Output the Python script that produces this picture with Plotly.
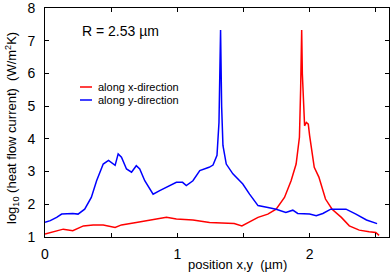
import plotly.graph_objects as go

# along x-direction (red)
x_red = [0.0, 0.05, 0.138, 0.21, 0.29, 0.364, 0.44, 0.53, 0.578, 0.69, 0.79, 0.918, 0.993,
         1.118, 1.244, 1.37, 1.43, 1.488, 1.533, 1.61, 1.684, 1.747, 1.81, 1.86, 1.898,
         1.923, 1.932, 1.94, 1.945, 1.95, 1.955, 1.962, 1.975, 1.99, 2.0, 2.035, 2.07,
         2.12, 2.17, 2.24, 2.30, 2.375, 2.45, 2.50, 2.525]
y_red = [1.09, 1.15, 1.24, 1.19, 1.34, 1.37, 1.37, 1.29, 1.37, 1.44, 1.50, 1.60, 1.55,
         1.52, 1.44, 1.41, 1.41, 1.34, 1.44, 1.60, 1.70, 1.85, 2.21, 2.72, 3.23,
         4.05, 5.5, 7.33, 6.0, 5.3, 4.9, 4.4, 4.5, 4.45, 4.1, 3.13, 2.83,
         2.16, 1.85, 1.60, 1.34, 1.21, 1.16, 1.14, 1.05]

# along y-direction (blue)
x_blue = [0.0, 0.04, 0.088, 0.126, 0.21, 0.25, 0.30, 0.35, 0.39, 0.44, 0.48, 0.50, 0.53,
          0.553, 0.578, 0.616, 0.654, 0.69, 0.716, 0.754, 0.817, 0.867, 0.918, 0.993,
          1.04, 1.068, 1.118, 1.17, 1.24, 1.27, 1.30, 1.315, 1.327, 1.335, 1.345, 1.37,
          1.42, 1.495, 1.546, 1.61, 1.685, 1.747, 1.82, 1.873, 1.91, 2.0, 2.05, 2.10,
          2.16, 2.275, 2.35, 2.43, 2.51]
y_blue = [1.45, 1.5, 1.6, 1.70, 1.72, 1.70, 1.85, 2.21, 2.72, 3.23, 3.34, 3.28, 3.19,
          3.54, 3.44, 3.08, 2.98, 3.18, 3.08, 2.72, 2.31, 2.42, 2.52, 2.67,
          2.67, 2.57, 2.72, 3.03, 3.13, 3.2, 3.5, 4.5, 7.33, 5.0, 3.8, 3.23,
          2.93, 2.62, 2.31, 1.96, 1.90, 1.85, 1.75, 1.82, 1.72, 1.70, 1.65, 1.72,
          1.85, 1.85, 1.70, 1.52, 1.41]

x_tickvals = [0, 1, 2]
x_ticktext = ["0", "1", "2"]
y_tickvals = [1, 2, 3, 4, 5, 6, 7, 8]
y_ticktext = ["1", "2", "3", "4", "5", "6", "7", "8"]

font = "Liberation Sans, Arial, sans-serif"

fig = go.Figure()
fig.add_trace(go.Scatter(x=x_red, y=y_red, mode="lines", line=dict(color="#ff0000", width=1.5),
                         name="along x-direction", showlegend=False))
fig.add_trace(go.Scatter(x=x_blue, y=y_blue, mode="lines", line=dict(color="#0000ff", width=1.5),
                         name="along y-direction", showlegend=False))

W, H = 390, 274
L, R, T, B = 45, 1, 8, 37
pw, ph = W - L - R, H - T - B


def px(xp):
    return (xp - L) / pw


def py(yp):
    return (H - B - yp) / ph


fig.update_layout(
    width=W, height=H,
    margin=dict(l=L, r=R, t=T, b=B),
    paper_bgcolor="white", plot_bgcolor="white",
    font=dict(family=font, size=14, color="black"),
    xaxis=dict(range=[0, 2.6], tickvals=x_tickvals, ticktext=x_ticktext, ticks="inside",
               ticklen=4, tickcolor="black", showline=True, linecolor="black", linewidth=1,
               mirror="ticks", showgrid=False, zeroline=False, tickfont=dict(size=14),
               ticklabelstandoff=4, ticklabeloverflow="allow",
               minor=dict(dtick=0.5, tick0=0, ticks="inside", ticklen=4, tickcolor="black",
                          showgrid=False)),
    yaxis=dict(range=[1, 8.0005], tickvals=y_tickvals, ticktext=y_ticktext, ticks="inside",
               ticklen=4, tickcolor="black", showline=True, linecolor="black", linewidth=1,
               mirror="ticks", showgrid=False, zeroline=False, tickfont=dict(size=14),
               ticklabelstandoff=6, ticklabeloverflow="allow"),
    annotations=[
        dict(text="position x,y  (µm)", x=px(237), y=py(264), xref="paper", yref="paper",
             showarrow=False, font=dict(size=13), xanchor="center", yanchor="middle"),
        dict(text="log<sub>10</sub> (heat flow current)  (W/m<sup>2</sup>K)", x=px(12),
             y=py(128), xref="paper", yref="paper", showarrow=False, textangle=-90,
             font=dict(size=13), xanchor="center", yanchor="middle"),
        dict(text="R = 2.53 µm", x=px(80), y=py(31), xref="paper", yref="paper",
             showarrow=False, font=dict(size=14), xanchor="left", yanchor="middle"),
        dict(text="along x-direction", x=px(96), y=py(87), xref="paper", yref="paper",
             showarrow=False, font=dict(size=11), xanchor="left", yanchor="middle"),
        dict(text="along y-direction", x=px(96), y=py(100), xref="paper", yref="paper",
             showarrow=False, font=dict(size=11), xanchor="left", yanchor="middle"),
    ],
    shapes=[
        dict(type="line", xref="paper", yref="paper", x0=px(80), x1=px(92), y0=py(87), y1=py(87),
             line=dict(color="#ff0000", width=1.5)),
        dict(type="line", xref="paper", yref="paper", x0=px(80), x1=px(92), y0=py(100), y1=py(100),
             line=dict(color="#0000ff", width=1.5)),
    ],
)

fig.write_html("out.html", config={"displayModeBar": False},
               post_script="document.body.style.margin='0';document.body.style.overflow='hidden';")
